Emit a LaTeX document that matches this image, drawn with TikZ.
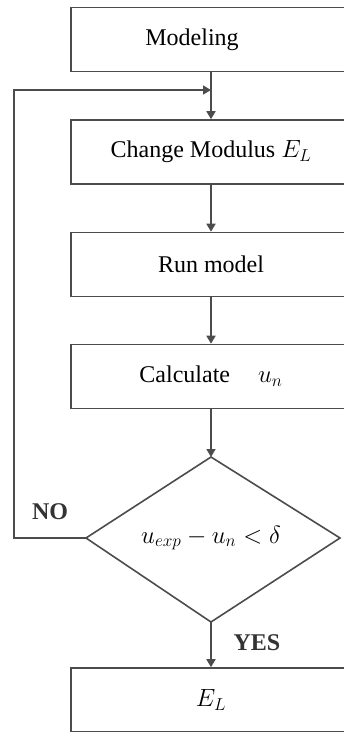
\documentclass[tikz,border=0pt]{standalone}
\usepackage{fontspec}
\setmainfont{Liberation Serif}
\usetikzlibrary{arrows.meta}
\begin{document}
\begin{tikzpicture}[x=1pt,y=-1pt,
  stepbox/.style={draw=black!70,line width=1.6pt,minimum width=280pt,minimum height=64pt,inner sep=0pt,font=\fontsize{24}{28}\selectfont},
  shape line/.style={draw=black!70,line width=1.6pt,line join=miter},
  txt/.style={inner sep=0pt,font=\fontsize{24}{28}\selectfont},
  flow/.style={draw=black!70,line width=1.6pt,-{Triangle[width=9pt,length=8pt]}},
  lbl/.style={font=\fontsize{24}{28}\selectfont\bfseries,text=black!80}]
\useasboundingbox (0,0) rectangle (344,732);
\clip (0,0) rectangle (344,732);
\node[stepbox] (mod) at (211,39.5) {Modeling\rule{38pt}{0pt}};
\node[stepbox] (chg) at (211,152) {Change Modulus $E_L$};
\node[stepbox] (run) at (211,264.5) {Run model};
\node[stepbox] (calc) at (211,376.5) {Calculate\hspace{28pt}$u_n$};
\coordinate (dtop) at (211,457);
\coordinate (dleft) at (86,538);
\coordinate (dbot) at (211,622);
\coordinate (dright) at (340,538);
\path[shape line] (dtop) -- (dright) -- (dbot) -- (dleft) -- cycle;
\node[txt] (dec) at (211,538) {$u_{exp}-u_n<\delta$};
\node[stepbox] (el) at (211,700) {$E_L$};
\coordinate (jn) at (211,90);
\coordinate (c1) at (14,538);
\coordinate (c2) at (14,90);
\draw[flow] (mod) -- (chg);
\draw[flow] (chg) -- (run);
\draw[flow] (run) -- (calc);
\draw[flow] (calc) -- (dtop);
\draw[flow] (dbot) -- (el);
\draw[flow] (dleft) -- (c1) -- (c2) -- (jn);
\node[lbl] (no) at (50,512) {NO};
\node[lbl] (yes) at (257,643) {YES};
\end{tikzpicture}
\end{document}
